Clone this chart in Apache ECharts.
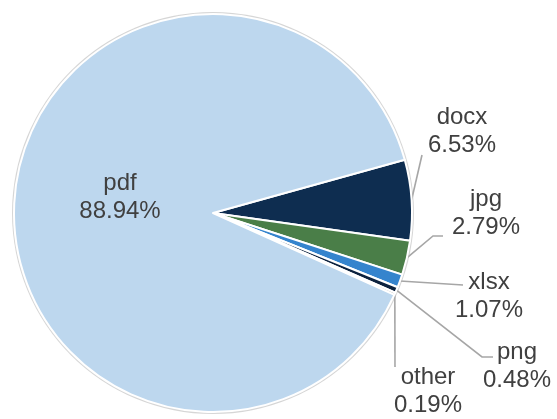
<!DOCTYPE html>
<html>
<head>
<meta charset="utf-8">
<script src="https://cdn.jsdelivr.net/npm/echarts@6/dist/echarts.min.js"></script>
<style>
html,body{margin:0;padding:0;background:#fff;}
#chart{width:557px;height:419px;}
</style>
</head>
<body>
<div id="chart"></div>
<script>
// ---- data ----
const categories = ['docx', 'jpg', 'xlsx', 'png', 'other', 'pdf'];
const shares = [6.53, 2.79, 1.07, 0.48, 0.19, 88.94];
const colors = ['#0e2d50', '#4a7e48', '#3584cd', '#0d233f', '#8c8c8c', '#bdd7ee'];

// ---- label layout (label centres and leader-line bends, relative to label centre) ----
const labelCenters = {
  docx: [462, 131],
  jpg: [486, 213],
  xlsx: [489, 296],
  png: [517, 366],
  other: [428, 391],
  pdf: [120, 197]
};
const leaderBends = {
  docx: [[-40, 24]],
  jpg: [[-53, 23], [-43, 23]],
  xlsx: [[-26, -11]],
  png: [[-35, -9], [-24, -9]],
  other: [[-33, -24]]
};

const chart = echarts.init(document.getElementById('chart'), null, {renderer: 'canvas'});

const pieData = categories.map((name, i) => {
  const item = {name: name, value: shares[i], itemStyle: {color: colors[i]}};
  if (name === 'pdf') {
    item.label = {position: 'inside'};
    item.labelLine = {show: false};
  }
  return item;
});

const option = {
  animation: false,
  backgroundColor: '#ffffff',
  series: [
    {
      type: 'pie',
      silent: true,
      center: [213, 213],
      radius: 201,
      z: 1,
      label: {show: false},
      labelLine: {show: false},
      itemStyle: {color: '#d6d6d6', borderWidth: 0},
      data: [{name: 'outline', value: 1}]
    },
    {
      type: 'pie',
      center: [213, 213],
      radius: 199,
      startAngle: 15.5,
      clockwise: true,
      z: 2,
      avoidLabelOverlap: false,
      itemStyle: {borderColor: '#ffffff', borderWidth: 2},
      label: {
        show: true,
        position: 'outside',
        formatter: '{b}\n{d}%',
        fontFamily: 'Liberation Sans, Arial, sans-serif',
        fontSize: 24,
        lineHeight: 28,
        color: '#404040',
        align: 'center'
      },
      labelLine: {
        show: true,
        length: 10,
        length2: 10,
        lineStyle: {color: '#a6a6a6', width: 1.6}
      },
      labelLayout: function (params) {
        const name = categories[params.dataIndex];
        const c = labelCenters[name];
        const res = {x: c[0], y: c[1], align: 'center', verticalAlign: 'middle'};
        const bends = leaderBends[name];
        if (bends && params.labelLinePoints) {
          const start = params.labelLinePoints[0];
          const pts = [[start[0], start[1]]];
          bends.forEach(b => pts.push([c[0] + b[0], c[1] + b[1]]));
          while (pts.length < 3) pts.push(pts[pts.length - 1].slice());
          res.labelLinePoints = pts;
        }
        return res;
      },
      data: pieData
    }
  ]
};
chart.setOption(option);
</script>
</body>
</html>
